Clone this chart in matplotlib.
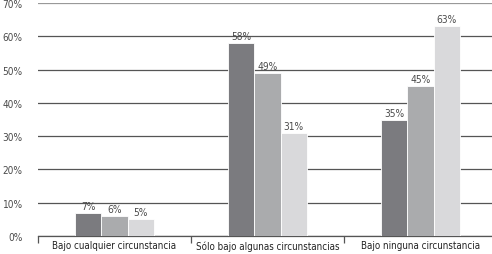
import matplotlib
matplotlib.use("Agg")
import matplotlib.pyplot as plt
import numpy as np

categories = ["Bajo cualquier circunstancia", "Sólo bajo algunas circunstancias", "Bajo ninguna circunstancia"]
serie_a = [7, 58, 35]
serie_b = [6, 49, 45]
serie_c = [5, 31, 63]
yticks = [0, 10, 20, 30, 40, 50, 60, 70]

COLORS = ["#7b7b7f", "#aaabad", "#d9d9db"]
TXT = "#4a4a4a"
plt.rcParams["font.family"] = ["DejaVu Sans"]
plt.rcParams["font.stretch"] = "condensed"

fig = plt.figure(figsize=(4.92, 2.55), dpi=100)
ax = fig.add_axes([38 / 492, 18 / 255, 459 / 492, 233 / 255])

x = np.arange(len(categories))
w = 0.172
for k, (vals, col) in enumerate(zip([serie_a, serie_b, serie_c], COLORS)):
    xs = x + (k - 1) * w
    ax.bar(xs, vals, width=w, color=col, edgecolor="white", linewidth=0.6, zorder=3)
    for xi, v in zip(xs, vals):
        ax.text(xi, v + 0.6, f"{v}%", ha="center", va="bottom", fontsize=7.3, color=TXT)

ax.set_xlim(-0.5, 2.5)
ax.set_ylim(0, 70)
ax.set_yticks(yticks)
ax.set_yticklabels([f"{t}%" for t in yticks], fontsize=7.2, color=TXT)
ax.yaxis.grid(True, color="#555555", linewidth=0.9, zorder=0)
ax.get_ygridlines()[-1].set_color("#999999")
ax.tick_params(axis="y", length=0, pad=11)

ax.set_xticks(x)
ax.set_xticklabels(categories, fontsize=7, color="#222222")
ax.set_xticks([-0.5, 0.5, 1.5], minor=True)
ax.tick_params(axis="x", which="major", length=0, pad=3)
ax.tick_params(axis="x", which="minor", length=5, color="#555555", width=0.9)

for s in ["left", "right", "top"]:
    ax.spines[s].set_visible(False)
ax.spines["bottom"].set_color("#555555")
ax.spines["bottom"].set_linewidth(0.9)

fig.savefig("out.png", dpi=100)
